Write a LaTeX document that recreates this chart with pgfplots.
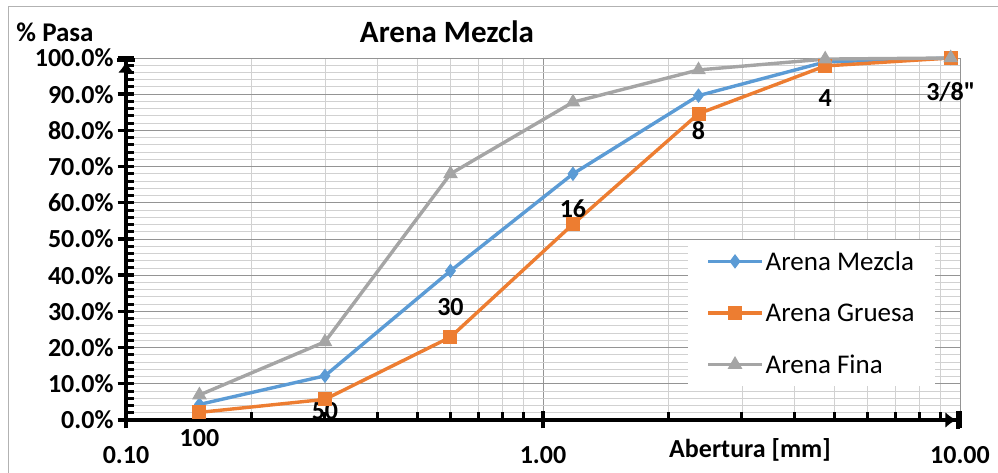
\documentclass[border=0pt]{standalone}
\usepackage{fontspec}
\setmainfont{Carlito}
\usepackage{pgfplots}
\pgfplotsset{compat=1.18}
\usetikzlibrary{arrows.meta}
\definecolor{cblue}{HTML}{5B9BD5}
\definecolor{corange}{HTML}{ED7D31}
\definecolor{cgray}{HTML}{A5A5A5}
\begin{document}
\begin{tikzpicture}[x=1bp,y=1bp]
\useasboundingbox (0,0) rectangle (998,473);
\draw[black!30, line width=1.2bp] (8.5,-5) -- (8.5,466.5) -- (1005,466.5);
\begin{axis}[
  at={(126bp,53bp)}, anchor=south west,
  scale only axis, width=834bp, height=362bp,
  xmode=log, xmin=0.1, xmax=10, ymin=0, ymax=100,
  clip=false,
  axis x line*=bottom, axis y line*=left,
  axis line style={line width=3.6bp, black},
  x axis line style={-{Latex[length=11bp,width=16bp]Bar[width=18bp,line width=3.6bp]}},
  y axis line style={-{Latex[length=11bp,width=16bp]Bar[width=18bp,line width=3.6bp]}},
  xtick={0.1,1,10}, xticklabels={\raisebox{-6bp}{0.10},1.00,10.00},
  minor xtick={0.2,0.3,0.4,0.5,0.6,0.7,0.8,0.9,2,3,4,5,6,7,8,9},
  ytick={0,10,...,100}, minor ytick={2,4,6,8,12,14,16,18,22,24,26,28,32,34,36,38,42,44,46,48,52,54,56,58,62,64,66,68,72,74,76,78,82,84,86,88,92,94,96,98},
  yticklabel={\pgfmathprintnumber[fixed,fixed zerofill,precision=1,assume math mode=true]{\tick}\%},
  ticklabel style={font=\fontsize{26bp}{30bp}\selectfont\bfseries},
  xticklabel style={yshift=-23bp},
  yticklabel style={xshift=-9bp},
  tick align=inside,
  major tick length=8bp, minor tick length=8bp,
  tick style={line width=3.2bp, black},
  minor tick style={line width=3bp, black},
  extra x ticks={0.1,1,10}, extra x tick labels={},
  extra y ticks={0,10,...,100}, extra y tick labels={},
  extra tick style={grid=none, tick align=center, major tick length=17bp, tick style={line width=3.4bp, black}},
  grid=both,
  major grid style={line width=0.9bp, black!42},
  minor grid style={line width=0.9bp, black!18},
  legend style={at={(rel axis cs:0.674,0.497)}, anchor=north west, draw=none, fill=white,
    font=\fontsize{27bp}{32bp}\selectfont, inner xsep=18bp, inner ysep=9bp,
    row sep=28bp, cells={anchor=west}},
  legend image code/.code={\draw[mark repeat=2,mark phase=2] plot coordinates {(0bp,0bp) (27bp,0bp) (54bp,0bp)};},
  every axis plot/.append style={line width=3.4bp},
]
\addplot[color=cblue, mark=diamond*, mark size=6.5bp, mark options={fill=cblue, line width=1bp}] coordinates {
 (0.15,4.3) (0.3,12.2) (0.6,41.2) (1.18,68.0) (2.36,89.6) (4.75,98.9) (9.5,100)};
\addlegendentry{Arena Mezcla}
\addplot[color=corange, mark=square*, mark size=6.5bp, mark options={fill=corange, line width=1bp}] coordinates {
 (0.15,2.1) (0.3,5.7) (0.6,22.9) (1.18,54.1) (2.36,84.6) (4.75,97.8) (9.5,100)};
\addlegendentry{Arena Gruesa}
\addplot[color=cgray, mark=triangle*, mark size=7.5bp, mark options={fill=cgray, line width=1bp}] coordinates {
 (0.15,6.9) (0.3,21.6) (0.6,68.0) (1.18,87.8) (2.36,96.7) (4.75,99.7) (9.5,100)};
\addlegendentry{Arena Fina}
\begin{scope}[every node/.style={font=\fontsize{26bp}{30bp}\selectfont\bfseries}]
\node at (axis cs:0.15,-4.9) {100};
\node at (axis cs:0.3,2.6) {50};
\node at (axis cs:0.6,31.2) {30};
\node at (axis cs:1.18,58.3) {16};
\node at (axis cs:2.36,79.8) {8};
\node at (axis cs:4.75,88.9) {4};
\node at (axis cs:9.5,90.6) {3/8\textquotedbl};
\end{scope}
\end{axis}
\node[font=\fontsize{31bp}{36bp}\selectfont\bfseries] at (447,441) {Arena Mezcla};
\node[font=\fontsize{27bp}{32bp}\selectfont\bfseries] at (55,441) {\% Pasa};
\node[font=\fontsize{26bp}{30bp}\selectfont\bfseries] at (750,23) {Abertura [mm]};
\end{tikzpicture}
\end{document}
